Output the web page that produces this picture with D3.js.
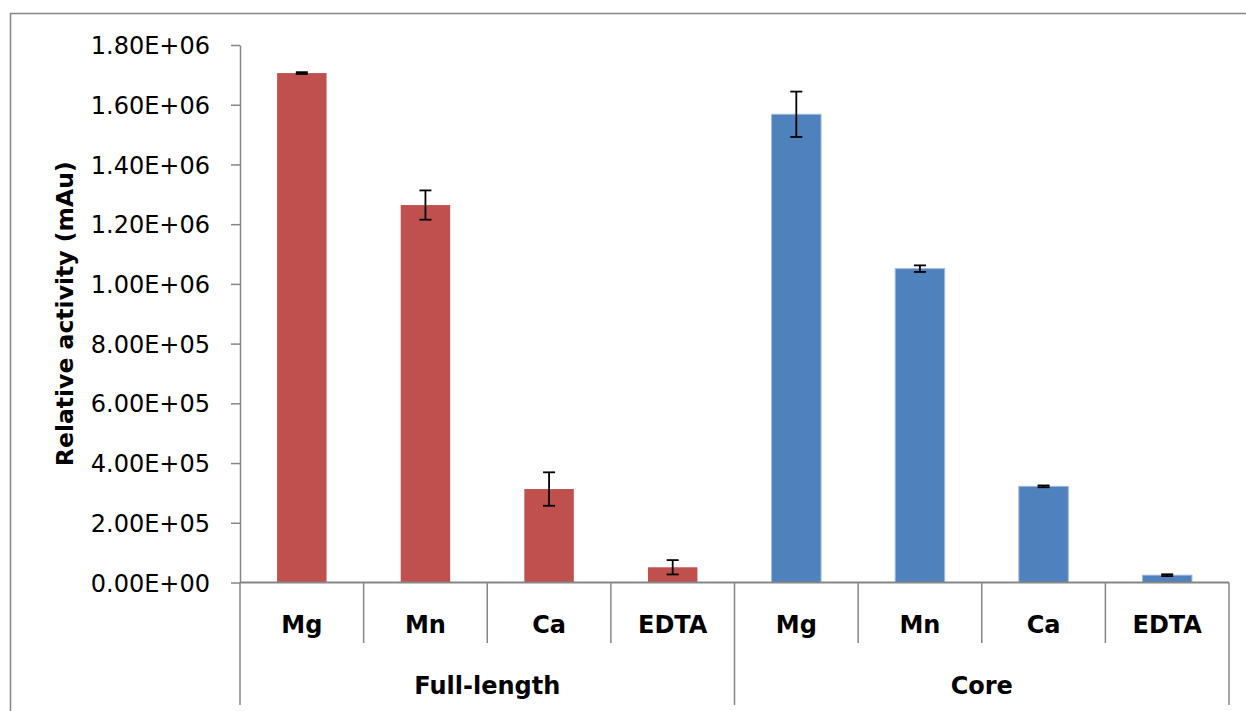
<!DOCTYPE html>
<html>
<head>
<meta charset="utf-8">
<script src="https://cdn.jsdelivr.net/npm/d3@7"></script>
<style>
  html, body { margin: 0; padding: 0; background: #fff; }
  svg { display: block; }
  text { font-family: "DejaVu Sans", sans-serif; fill: #000; }
</style>
</head>
<body>
<svg id="chart" width="1246" height="711"></svg>
<script>
const groups = ["Full-length", "Core"];
const metals = ["Mg", "Mn", "Ca", "EDTA"];
const fullValues = [1706000, 1264000, 313000, 51000];
const fullErrors = [3000, 49000, 56000, 24000];
const coreValues = [1568000, 1051000, 322000, 24500];
const coreErrors = [76000, 11000, 3000, 3000];
const yTickValues = [0, 200000, 400000, 600000, 800000, 1000000, 1200000, 1400000, 1600000, 1800000];
const yTickLabels = ["0.00E+00", "2.00E+05", "4.00E+05", "6.00E+05", "8.00E+05", "1.00E+06", "1.20E+06", "1.40E+06", "1.60E+06", "1.80E+06"];
const yTitle = "Relative activity (mAu)";
const groupColors = ["#C0504D", "#4F81BD"];

(function () {
const seriesValues = [fullValues, coreValues];
const seriesErrors = [fullErrors, coreErrors];
const rows = [];
groups.forEach((g, gi) => metals.forEach((m, mi) => rows.push({
  key: g + "|" + m, group: g, gi, metal: m,
  value: seriesValues[gi][mi], err: seriesErrors[gi][mi]
})));

const svg = d3.select("#chart");
const axisColor = "#868686";
const pLeft = 240, pRight = 1229, pTop = 45, pBottom = 582.5;

// outer chart border
svg.append("rect").attr("x", 10.5).attr("y", 13.5).attr("width", 1400).attr("height", 800)
  .attr("fill", "none").attr("stroke", axisColor).attr("stroke-width", 1.5);

const x = d3.scaleBand().domain(rows.map(r => r.key)).range([pLeft, pRight])
  .paddingInner(0.6).paddingOuter(0.3);
const step = x.step();
const y = d3.scaleLinear().domain([0, 1800000]).range([pBottom, pTop]);

// y axis
const yAxis = d3.axisLeft(y).tickValues(yTickValues)
  .tickFormat((d, i) => yTickLabels[i]).tickSize(9).tickSizeOuter(0).tickPadding(21);
const gy = svg.append("g").attr("transform", `translate(${pLeft},0)`).call(yAxis);
gy.select(".domain").attr("stroke", axisColor).attr("stroke-width", 1.5);
gy.selectAll(".tick line").attr("stroke", axisColor).attr("stroke-width", 1.5);
gy.selectAll(".tick text").attr("font-size", 24).attr("font-family", "DejaVu Sans")
  .attr("fill", "#000").attr("dy", "0.36em");

// bars
svg.append("g").selectAll("rect").data(rows).join("rect")
  .attr("x", d => x(d.key)).attr("width", x.bandwidth())
  .attr("y", d => y(d.value)).attr("height", d => y(0) - y(d.value))
  .attr("fill", d => groupColors[d.gi])
  .attr("stroke", d => d.gi === 1 ? "#9bb9de" : "none").attr("stroke-width", 1);

// error bars
const eb = svg.append("g").attr("stroke", "#000").attr("stroke-width", 1.8);
rows.forEach(d => {
  const cx = x(d.key) + x.bandwidth() / 2;
  const y1 = y(d.value + d.err), y2 = y(d.value - d.err);
  eb.append("line").attr("x1", cx).attr("x2", cx).attr("y1", y1).attr("y2", y2);
  eb.append("line").attr("x1", cx - 6).attr("x2", cx + 6).attr("y1", y1).attr("y2", y1);
  eb.append("line").attr("x1", cx - 6).attr("x2", cx + 6).attr("y1", y2).attr("y2", y2);
});

// x axis baseline
svg.append("line").attr("x1", pLeft).attr("x2", pRight).attr("y1", y(0)).attr("y2", y(0))
  .attr("stroke", axisColor).attr("stroke-width", 2);

// category separators
const sep = svg.append("g").attr("stroke", axisColor).attr("stroke-width", 1.5);
rows.forEach((d, i) => {
  const xb = x(d.key) - step * 0.3;
  const isGroupEdge = (i % metals.length === 0);
  sep.append("line").attr("x1", xb).attr("x2", xb).attr("y1", y(0))
    .attr("y2", isGroupEdge ? 705 : 643);
});
sep.append("line").attr("x1", pRight).attr("x2", pRight).attr("y1", y(0)).attr("y2", 705);

// category labels
svg.append("g").selectAll("text").data(rows).join("text")
  .attr("x", d => x(d.key) + x.bandwidth() / 2).attr("y", 633)
  .attr("text-anchor", "middle").attr("font-size", 24).attr("font-weight", "bold")
  .text(d => d.metal);

// group labels
svg.append("g").selectAll("text").data(groups).join("text")
  .attr("x", (g, gi) => pLeft + step * metals.length * (gi + 0.5)).attr("y", 694)
  .attr("text-anchor", "middle").attr("font-size", 24).attr("font-weight", "bold")
  .text(g => g);

// y title
svg.append("text").attr("transform", `translate(73,${(pTop + pBottom) / 2}) rotate(-90)`)
  .attr("text-anchor", "middle").attr("font-size", 23.5).attr("font-weight", "bold")
  .text(yTitle);
})();
</script>
</body>
</html>
